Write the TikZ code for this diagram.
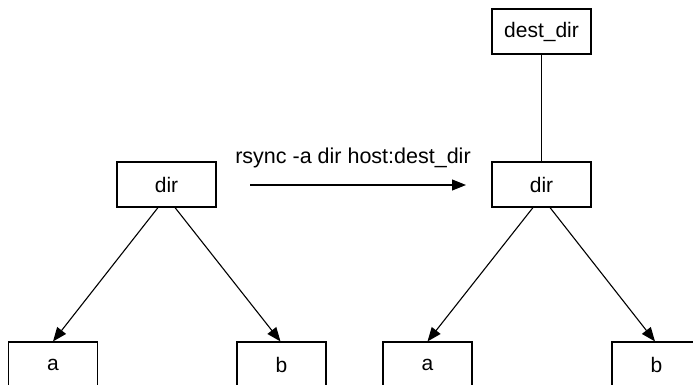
\documentclass[tikz,border=0pt]{standalone}
\usepackage{fontspec}
\setmainfont{Liberation Sans}
\usetikzlibrary{arrows.meta,calc}
\begin{document}
\begin{tikzpicture}[x=1pt,y=-1pt,
  box/.style={draw=black,line width=1.1pt,rectangle,minimum height=45pt,inner sep=0pt,
    font=\fontsize{21}{25}\selectfont},
  wbox/.style={box,minimum width=99pt},
  nbox/.style={box,minimum width=89pt},
  conn/.style={draw=black,line width=1.1pt,-{Triangle[length=14pt,width=11pt]}},
  plain/.style={draw=black,line width=1.1pt}]
\useasboundingbox (0,0) rectangle (693,385);
\clip (0,0) rectangle (693,385);
\node[wbox] (destdir) at (541.5,31.5) {dest\_dir};
\node[wbox] (rdir) at (541.5,184.5) {dir};
\node[wbox] (ldir) at (166.5,184.5) {dir};
\node[nbox] (la) at (53,364.5) {a};
\node[nbox] (lb) at (281.5,364.5) {b};
\node[nbox] (ra) at (427.5,364.5) {a};
\node[nbox] (rb) at (656.5,364.5) {b};
\coordinate (cmdstart) at (250,185);
\coordinate (cmdend) at (466,185);
\node[font=\fontsize{21.5}{25}\selectfont,anchor=base] (cmd) at (353,164) {rsync -a dir host:dest\_dir};
\draw[conn] (cmdstart) -- (cmdend);
\draw[plain] (destdir.south) -- (rdir.north);
\draw[conn] ($(ldir.south)+(-8.5,0)$) -- ($(la.north)+(0,0)$);
\draw[conn] ($(ldir.south)+(8.5,0)$) -- ($(lb.north)+(-1,0)$);
\draw[conn] ($(rdir.south)+(-8.5,0)$) -- (ra.north);
\draw[conn] ($(rdir.south)+(8.5,0)$) -- ($(rb.north)+(-1.5,0)$);
\end{tikzpicture}
\end{document}
